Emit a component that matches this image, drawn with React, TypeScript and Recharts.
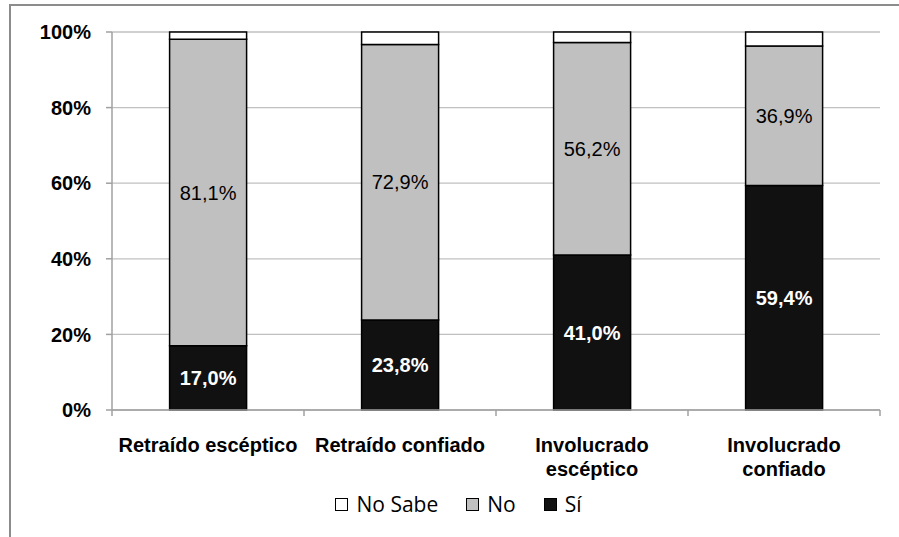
import React from "react";
import { Bar, BarChart, CartesianGrid, LabelList, XAxis, YAxis } from "recharts";

const categories = ["Retraído escéptico", "Retraído confiado", "Involucrado escéptico", "Involucrado confiado"];
const si = [17.0, 23.8, 41.0, 59.4];
const no = [81.1, 72.9, 56.2, 36.9];
const noSabe = [1.9, 3.3, 2.8, 3.7];
const yTicks = [0, 20, 40, 60, 80, 100];

const chartData = categories.map((label, i) => ({
    label,
    si: si[i],
    no: no[i],
    noSabe: noSabe[i],
}));

const FONT = "'Liberation Sans', Arial, sans-serif";
const WIDTH = 899;
const X_HEIGHT = 60;
const MARGIN = { top: 32, right: 19, left: 20, bottom: 127 - X_HEIGHT };
const Y_WIDTH = 92;
const BAND = (WIDTH - MARGIN.left - MARGIN.right - Y_WIDTH) / categories.length;
const fmt = (v: any) => `${Number(v).toFixed(1).replace(".", ",")}%`;

function CategoryTick({ x, y, payload, index }: any) {
    const text: string = payload.value;
    const lines = text.length > 18 ? text.split(" ") : [text];
    const axisY = y - 8;
    return (
        <g>
            <line x1={x - BAND / 2} x2={x - BAND / 2} y1={axisY} y2={axisY + 6} stroke="#a0a0a0" strokeWidth={1.5} />
            {index === categories.length - 1 && (
                <line x1={x + BAND / 2} x2={x + BAND / 2} y1={axisY} y2={axisY + 6} stroke="#a0a0a0" strokeWidth={1.5} />
            )}
            <text x={x} y={y} textAnchor="middle" fill="#000" fontFamily={FONT} fontSize={20} fontWeight={700}>
                {lines.map((line, i) => (
                    <tspan key={i} x={x} dy={i === 0 ? 34 : 24}>
                        {line}
                    </tspan>
                ))}
            </text>
        </g>
    );
}

const legendItems = [
    { name: "No Sabe", fill: "#ffffff" },
    { name: "No", fill: "#c0c0c0" },
    { name: "Sí", fill: "#111111" },
];

function ChartLegend() {
    return (
        <div style={{ position: "absolute", top: 490, left: 0, width: WIDTH, display: "flex", justifyContent: "center", alignItems: "center", fontFamily: "'Open Sans', sans-serif", fontSize: 21, color: "#000", paddingLeft: 18, boxSizing: "border-box" }}>
            {legendItems.map((item, i) => (
                <span key={item.name} style={{ display: "inline-flex", alignItems: "center", marginRight: i === legendItems.length - 1 ? 0 : 28 }}>
                    <span style={{ display: "inline-block", width: 11, height: 11, border: "1.5px solid #000", background: item.fill, marginRight: 8 }} />
                    {item.name}
                </span>
            ))}
        </div>
    );
}

export default function App() {
    return (
        <div style={{ position: "absolute", left: 0, top: 0, width: WIDTH, height: 537, background: "#fff", overflow: "hidden" }}>
            <div style={{ position: "absolute", left: 9, top: 4, width: 900, height: 540, borderLeft: "2px solid #8c8c8c", borderTop: "2px solid #8c8c8c" }} />
            <BarChart width={WIDTH} height={537} data={chartData} margin={MARGIN} barCategoryGap="30%">
                <CartesianGrid vertical={false} stroke="#c0c0c0" strokeWidth={1.3} />
                <XAxis
                    dataKey="label"
                    interval={0}
                    axisLine={{ stroke: "#a0a0a0", strokeWidth: 1.5 }}
                    tickLine={false}
                    tick={<CategoryTick />}
                    height={X_HEIGHT}
                />
                <YAxis
                    domain={[0, 100]}
                    ticks={yTicks}
                    tickFormatter={(v) => `${v}%`}
                    width={Y_WIDTH}
                    tickSize={6}
                    tickMargin={15}
                    axisLine={{ stroke: "#a0a0a0", strokeWidth: 1.5 }}
                    tickLine={{ stroke: "#a0a0a0", strokeWidth: 1.5 }}
                    tick={{ fill: "#000", fontSize: 20, fontWeight: 700, fontFamily: FONT }}
                />
                <Bar dataKey="si" name="Sí" stackId="a" fill="#111111" stroke="#000" strokeWidth={1.5} isAnimationActive={false}>
                    <LabelList dataKey="si" position="center" formatter={fmt} fill="#fff" fontSize={20} fontWeight={700} fontFamily={FONT} />
                </Bar>
                <Bar dataKey="no" name="No" stackId="a" fill="#c0c0c0" stroke="#000" strokeWidth={1.5} isAnimationActive={false}>
                    <LabelList dataKey="no" position="center" formatter={fmt} fill="#000" fontSize={20} fontFamily={FONT} />
                </Bar>
                <Bar dataKey="noSabe" name="No Sabe" stackId="a" fill="#ffffff" stroke="#000" strokeWidth={1.5} isAnimationActive={false} />
            </BarChart>
            <ChartLegend />
        </div>
    );
}
